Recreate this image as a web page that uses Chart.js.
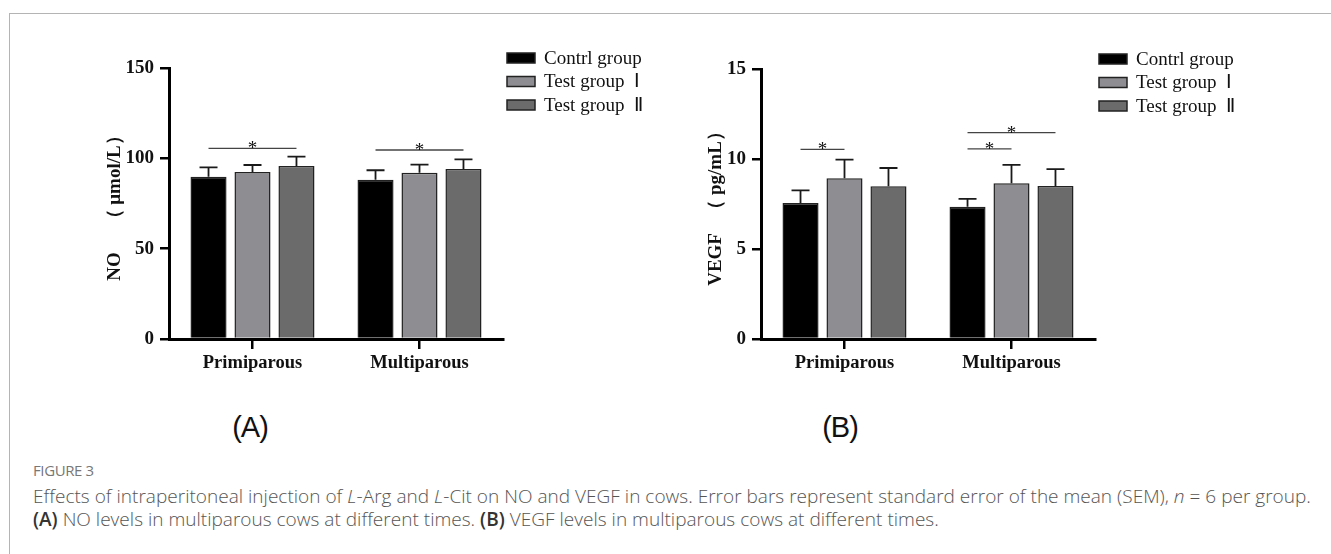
<!DOCTYPE html>
<html>
<head>
<meta charset="utf-8">
<script src="https://cdn.jsdelivr.net/npm/chart.js@4"></script>
<style>
  body{margin:0;background:#fff;width:1331px;height:554px;overflow:hidden;position:relative;font-family:'Open Sans',sans-serif}
  .frame{position:absolute;left:9px;top:13px;width:1400px;height:600px;border-left:1.5px solid #b4b4b4;border-top:1.5px solid #b4b4b4}
  canvas{position:absolute}
  .tag{position:absolute;top:411px;font-family:'Liberation Sans',Arial,sans-serif;font-size:29px;letter-spacing:-1px;color:#111;transform:translateX(-50%)}
  .fig{position:absolute;left:33px;top:460px;font-size:15px;color:#777;letter-spacing:-0.4px}
  .cap{position:absolute;left:33px;top:485px;font-size:19px;line-height:23px;color:#555;font-weight:300;white-space:nowrap;letter-spacing:0.02px}
  .cap b{color:#333;font-weight:600}
</style>
</head>
<body>
<div class="frame"></div>
<canvas id="chartA" width="640" height="360" style="left:40px;top:20px"></canvas>
<canvas id="chartB" width="640" height="360" style="left:632px;top:20px"></canvas>
<div class="tag" style="left:250px">(A)</div>
<div class="tag" style="left:840px">(B)</div>
<div class="fig">FIGURE 3</div>
<div class="cap">Effects of intraperitoneal injection of <i>L</i>-Arg and <i>L</i>-Cit on NO and VEGF in cows. Error bars represent standard error of the mean (SEM), <i>n</i> = 6 per group.<br><b>(A)</b> NO levels in multiparous cows at different times. <b>(B)</b> VEGF levels in multiparous cows at different times.</div>
<script>
const categories = ['Primiparous', 'Multiparous'];
const groupNames = ['Contrl group', 'Test group  Ⅰ', 'Test group  Ⅱ'];
const groupColors = ['#000000', '#8e8e92', '#6b6b6b'];

// NO (umol/L) means and upper error (SEM)
const noCtrl = [89.8, 88.2];
const noTest1 = [92.4, 92.0];
const noTest2 = [95.7, 94.1];
const noCtrlErr = [5.2, 5.2];
const noTest1Err = [3.9, 4.5];
const noTest2Err = [5.2, 5.3];
// significance lines: [category, from group, to group, y value]
const noSig = [[0, 0, 2, 105.5], [1, 0, 2, 104.6]];

// VEGF (pg/mL)
const vegfCtrl = [7.56, 7.35];
const vegfTest1 = [8.93, 8.65];
const vegfTest2 = [8.48, 8.50];
const vegfCtrlErr = [0.70, 0.44];
const vegfTest1Err = [1.03, 1.02];
const vegfTest2Err = [1.02, 0.94];
const vegfSig = [[0, 0, 1, 10.54], [1, 0, 2, 11.46], [1, 0, 1, 10.56]];

const serif = '"Liberation Serif", "Times New Roman", serif';

// error bars, asterisks and the legend
const extras = {
  id: 'extras',
  afterDatasetsDraw(chart, args, opts){
    const {ctx, chartArea, scales:{y}} = chart;
    ctx.save();
    ctx.strokeStyle = '#1a1a1a'; ctx.lineWidth = 1.8;
    opts.errors.forEach((errs, di)=>{
      chart.getDatasetMeta(di).data.forEach((bar, i)=>{
        const top = y.getPixelForValue(chart.data.datasets[di].data[i] + errs[i]);
        ctx.beginPath();
        ctx.moveTo(bar.x, bar.y); ctx.lineTo(bar.x, top);
        ctx.moveTo(bar.x - 9, top); ctx.lineTo(bar.x + 9, top);
        ctx.stroke();
      });
    });

    ctx.strokeStyle = '#444'; ctx.lineWidth = 1.3;
    ctx.fillStyle = '#111'; ctx.font = '19px ' + serif; ctx.textAlign = 'center'; ctx.textBaseline = 'alphabetic';
    opts.sig.forEach(([c, a, b, v])=>{
      const x1 = chart.getDatasetMeta(a).data[c].x, x2 = chart.getDatasetMeta(b).data[c].x;
      const py = y.getPixelForValue(v);
      ctx.beginPath(); ctx.moveTo(x1, py); ctx.lineTo(x2, py); ctx.stroke();
      ctx.fillText('*', (x1 + x2) / 2, py + 6);
    });

    // legend
    ctx.font = '19px ' + serif; ctx.textAlign = 'left'; ctx.textBaseline = 'middle';
    chart.data.datasets.forEach((ds, i)=>{
      const lx = chartArea.right + 4, ly = chartArea.top - 10 + i * 23.5;
      ctx.fillStyle = ds.backgroundColor;
      ctx.fillRect(lx, ly - 5, 28, 10);
      ctx.strokeStyle = '#222'; ctx.lineWidth = 1.5;
      ctx.strokeRect(lx, ly - 5, 28, 10);
      ctx.fillStyle = '#111';
      ctx.fillText(ds.label, lx + 37, ly + 1);
    });
    ctx.restore();
  }
};

function makePanel(id, series, errors, sig, yMax, step, title, titlePad, padTop){
  return new Chart(document.getElementById(id), {
    type: 'bar',
    data: {
      labels: categories,
      datasets: series.map((d, i)=>({
        label: groupNames[i], data: d, backgroundColor: groupColors[i],
        borderColor: '#222', borderWidth: 1.5,
        barPercentage: 0.82, categoryPercentage: 0.79
      }))
    },
    options: {
      responsive: false, animation: false, devicePixelRatio: 1,
      layout: {padding: {left: 0, top: padTop, right: 177, bottom: 0}},
      plugins: {legend: {display: false}, tooltip: {enabled: false}, extras: {errors, sig}},
      scales: {
        x: {
          afterFit: s=>{ s.height = 41; },
          grid: {display: true, drawOnChartArea: false, offset: false, tickLength: 10, lineWidth: 2.5, color: '#000'},
          border: {color: '#000', width: 3},
          ticks: {color: '#111', padding: 3, font: {family: serif, size: 18.5, weight: 'bold'}}
        },
        y: {
          min: 0, max: yMax,
          afterFit: s=>{ s.width = 129; },
          grid: {display: true, drawOnChartArea: false, tickLength: 9, lineWidth: 2.5, color: '#000'},
          border: {color: '#000', width: 3},
          ticks: {stepSize: step, color: '#111', padding: 6, font: {family: serif, size: 19, weight: 'bold'}},
          title: {display: true, text: title, color: '#111', padding: {top: titlePad, bottom: 0},
                  font: {family: serif, size: 19, weight: 'bold'}}
        }
      }
    },
    plugins: [extras]
  });
}

makePanel('chartA', [noCtrl, noTest1, noTest2], [noCtrlErr, noTest1Err, noTest2Err], noSig,
  150, 50, 'NO     （ μmol/L）', 64, 48);
makePanel('chartB', [vegfCtrl, vegfTest1, vegfTest2], [vegfCtrlErr, vegfTest1Err, vegfTest2Err], vegfSig,
  15, 5, 'VEGF   （ pg/mL）', 73, 49);
</script>
</body>
</html>
